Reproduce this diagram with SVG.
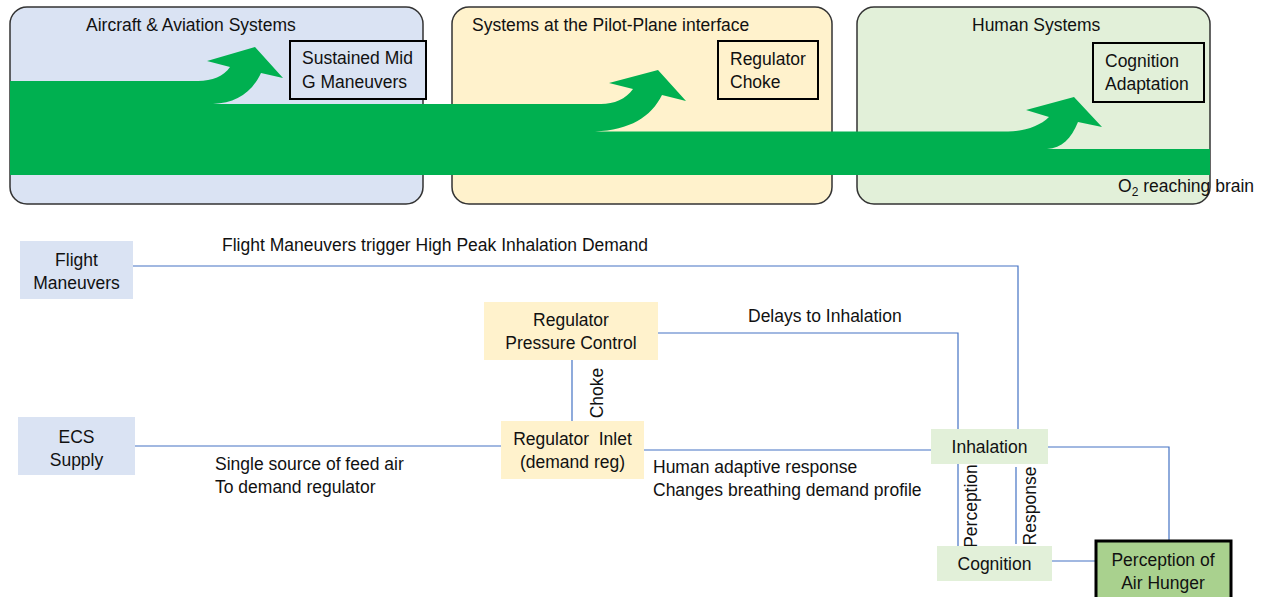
<svg xmlns="http://www.w3.org/2000/svg" width="1263" height="597" viewBox="0 0 1263 597">
<style>
text{font-family:"Liberation Sans",Arial,sans-serif;font-size:17.5px;fill:#111}
.c{text-anchor:middle}
.panel{stroke:#333;stroke-width:1.5}
.ibox{stroke:#000;stroke-width:2}
.conn{fill:none;stroke:#4472C4;stroke-width:1.2}
.blue{fill:#DAE3F3}.yel{fill:#FFF2CC}.grn{fill:#E2F0D9}
</style>
<rect width="1263" height="597" fill="#fff"/>
<g id="panel-aircraft"><rect class="panel blue" x="10" y="7" width="413" height="197" rx="17"/><text x="86" y="31">Aircraft &amp; Aviation Systems</text></g>
<g id="panel-interface"><rect class="panel yel" x="452" y="7" width="380" height="197" rx="17"/><text x="472" y="31">Systems at the Pilot-Plane interface</text></g>
<g id="panel-human"><rect class="panel grn" x="857" y="7" width="353" height="197" rx="17"/><text x="972" y="31">Human Systems</text></g>
<g id="o2-flow"><path fill="#00B050" d="M10,81 L198,81 C212,81 224,76 230,67 L207,61 L255,47 L283,78 L261,73 C251,94 235,103 213,104 L601,104 C614,104 626,99 633,89 L609,83 L658,70 L686,101 L662,95 C651,117 630,130 595,131.5 L1008,131.5 C1024,131.5 1040,126 1049,117 L1026,110 L1074,97 L1102,127 L1078,122 C1071,139 1062,148 1047,149 L1210,149 L1210,175 L10,175 Z"/>
<text x="1118" y="192">O<tspan font-size="12" dy="4">2</tspan><tspan dy="-4"> reaching brain</tspan></text></g>
<g id="box-sustained"><rect class="ibox blue" x="290" y="41" width="136" height="58"/><text x="302" y="64">Sustained Mid</text><text x="302" y="88">G Maneuvers</text></g>
<g id="box-choke"><rect class="ibox yel" x="718" y="41" width="100" height="58"/><text x="730" y="65">Regulator</text><text x="730" y="88">Choke</text></g>
<g id="box-cogadapt"><rect class="ibox grn" x="1093" y="43" width="111" height="59"/><text x="1105" y="67">Cognition</text><text x="1105" y="90">Adaptation</text></g>
<g id="connectors">
<path class="conn" d="M132,266 H1018 V429"/>
<path class="conn" d="M658,333 H958 V429"/>
<path class="conn" d="M572,360 V421"/>
<path class="conn" d="M135,446 H501"/>
<path class="conn" d="M644,450 H931"/>
<path class="conn" d="M1048,447 H1169 V541"/>
<path class="conn" d="M958,464 V546"/>
<path class="conn" d="M1016,467 V544"/>
<path class="conn" d="M1052,561 H1095"/>
<text x="222" y="251">Flight Maneuvers trigger High Peak Inhalation Demand</text>
<text x="748" y="322">Delays to Inhalation</text>
<text class="c" transform="translate(603,393) rotate(-90)">Choke</text>
<text x="215" y="470">Single source of feed air</text>
<text x="215" y="493">To demand regulator</text>
<text x="653" y="473">Human adaptive response</text>
<text x="653" y="496">Changes breathing demand profile</text>
<text class="c" transform="translate(977,506) rotate(-90)">Perception</text>
<text class="c" transform="translate(1036,506) rotate(-90)">Response</text>
</g>
<g id="node-flight"><rect class="blue" x="20" y="241" width="113" height="58"/><text class="c" x="76.5" y="266">Flight</text><text class="c" x="76.5" y="289">Maneuvers</text></g>
<g id="node-ecs"><rect class="blue" x="18" y="417" width="117" height="58"/><text class="c" x="76.5" y="443">ECS</text><text class="c" x="76.5" y="466">Supply</text></g>
<g id="node-rpc"><rect class="yel" x="484" y="302" width="174" height="58"/><text class="c" x="571" y="326">Regulator</text><text class="c" x="571" y="349">Pressure Control</text></g>
<g id="node-inlet"><rect class="yel" x="501" y="421" width="143" height="58"/><text class="c" x="572.5" y="445" style="white-space:pre">Regulator  Inlet</text><text class="c" x="572.5" y="468">(demand reg)</text></g>
<g id="node-inhalation"><rect class="grn" x="931" y="429" width="117" height="35"/><text class="c" x="989.5" y="453">Inhalation</text></g>
<g id="node-cognition"><rect class="grn" x="937" y="546" width="115" height="35"/><text class="c" x="994.5" y="570">Cognition</text></g>
<g id="node-airhunger"><rect x="1096" y="541" width="135" height="62" fill="#A9D18E" stroke="#000" stroke-width="3"/><text class="c" x="1163" y="566">Perception of</text><text class="c" x="1163" y="589">Air Hunger</text></g>
</svg>
